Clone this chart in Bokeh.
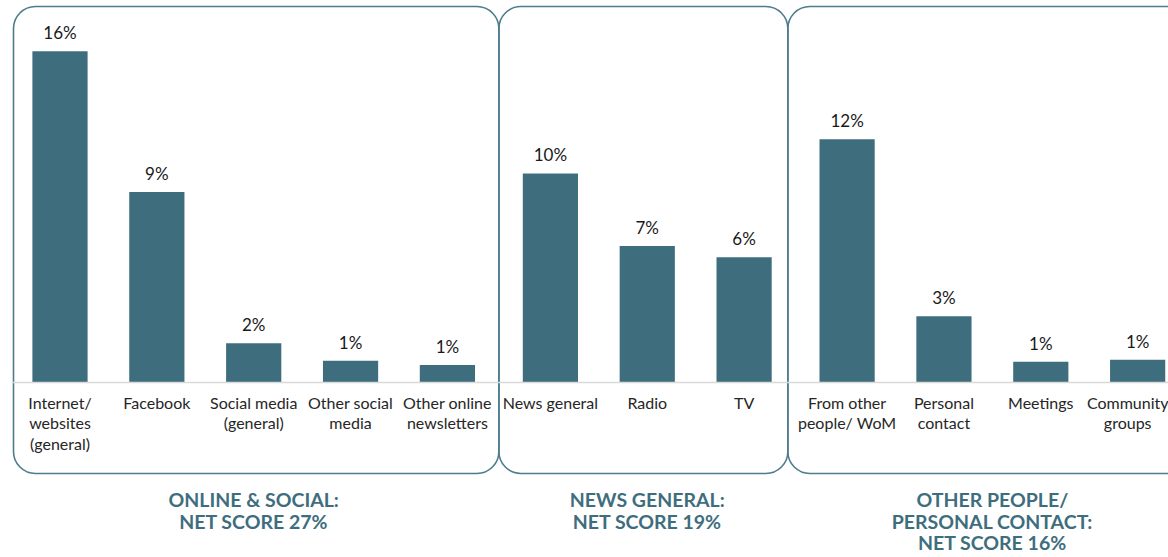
from bokeh.plotting import figure
from bokeh.models import FactorRange, Range1d, BoxAnnotation, ColumnDataSource, CustomJS
from bokeh.document import Document
from bokeh.core.properties import value
from bokeh.embed import file_html
from bokeh.resources import INLINE

# ---- data ----
groups = [
    "ONLINE & SOCIAL:\nNET SCORE 27%",
    "NEWS GENERAL:\nNET SCORE 19%",
    "OTHER PEOPLE/\nPERSONAL CONTACT:\nNET SCORE 16%",
]
group_sizes = [5, 3, 4]
categories = [
    "Internet/\nwebsites\n(general)", "Facebook", "Social media\n(general)",
    "Other social\nmedia", "Other online\nnewsletters",
    "News general", "Radio", "TV",
    "From other\npeople/ WoM", "Personal\ncontact", "Meetings", "Community\ngroups",
]
values = [16.0, 9.2, 1.9, 1.05, 0.85, 10.1, 6.6, 6.05, 11.75, 3.2, 1.0, 1.1]

# ---- styling / layout ----
BAR = "#3e6e7e"
BOX = "#4d7c8e"
FONT = "Lato"
GP = 0.0635            # extra gap between groups (in category widths)
W, H = 1168, 557
LEFT = 11              # frame left border, px
SX = 96.85             # px per category
SY = 20.7              # px per percent
BASE = 382             # baseline, px from top
FIRST = 59.5           # centre of first bar, px from left
BOX_SHIFT = [0.0, -0.08]   # nudge of the box boundaries between groups

group_of = []
for g, n in zip(groups, group_sizes):
    group_of += ["\n" + g] * n
factors = list(zip(group_of, categories))
labels = [f"{round(v)}%" for v in values]

src = ColumnDataSource(dict(x=factors, top=values, label=labels))

x_start = 0.5 - (FIRST - LEFT) / SX
x_end = x_start + (W - LEFT) / SX
x_range = FactorRange(*factors, factor_padding=0, group_padding=GP,
                      range_padding=-0.0867, range_padding_units="absolute")

y_range = Range1d(-(H - BASE) / SY, BASE / SY)

p = figure(x_range=x_range, y_range=y_range, width=W, height=H,
           min_border=0, min_border_left=LEFT,
           output_backend="svg", toolbar_location=None, tools="")

p.vbar(x="x", top="top", width=0.57, source=src, color=BAR, line_color=None)
p.text(x="x", y="top", text="label", source=src, y_offset=-8,
       text_align="center", text_baseline="bottom",
       text_font=value(FONT), text_font_size="17px", text_color="#1a1a1a")

# group boxes
box_top = (BASE - 6) / SY
box_bottom = -(473 - BASE) / SY
bounds = []
start = 0.0
for j, n in enumerate(group_sizes[:-1]):
    start += n
    bounds.append(start + GP / 2 + BOX_SHIFT[j])
    start += GP
lefts = [x_start + 2.0 / SX] + bounds
rights = bounds + [x_end + 1.0]
for left, right in zip(lefts, rights):
    p.add_layout(BoxAnnotation(left=left, right=right, top=box_top, bottom=box_bottom,
                               fill_color=None, fill_alpha=0, line_color=BOX,
                               line_alpha=1.0, line_width=1.6, border_radius=22,
                               level="underlay"))

p.yaxis.visible = False
p.xgrid.visible = False
p.ygrid.visible = False
p.outline_line_color = None

ax = p.xaxis[0]
ax.fixed_location = 0
ax.axis_line_color = "#d9d9d9"
ax.axis_line_width = 1.5
ax.major_tick_line_color = None
ax.major_tick_out = 0
ax.major_tick_in = 0
ax.major_label_standoff = 10
ax.major_label_orientation = "horizontal"
ax.major_label_text_font = FONT
ax.major_label_text_font_size = "16px"
ax.major_label_text_color = "#262626"
ax.major_label_text_line_height = 1.1
ax.group_label_orientation = "horizontal"
ax.group_text_font = FONT
ax.group_text_font_size = "19.5px"
ax.group_text_font_style = "bold"
ax.group_text_color = BAR
ax.group_text_line_height = 0.94
ax.separator_line_color = None

doc = Document()
doc.add_root(p)
doc.js_on_event("document_ready", CustomJS(args=dict(r=x_range, s=x_start, e=x_end),
                                           code="r.start = s; r.end = e;"))

open("out.html", "w").write(file_html(doc, INLINE))
